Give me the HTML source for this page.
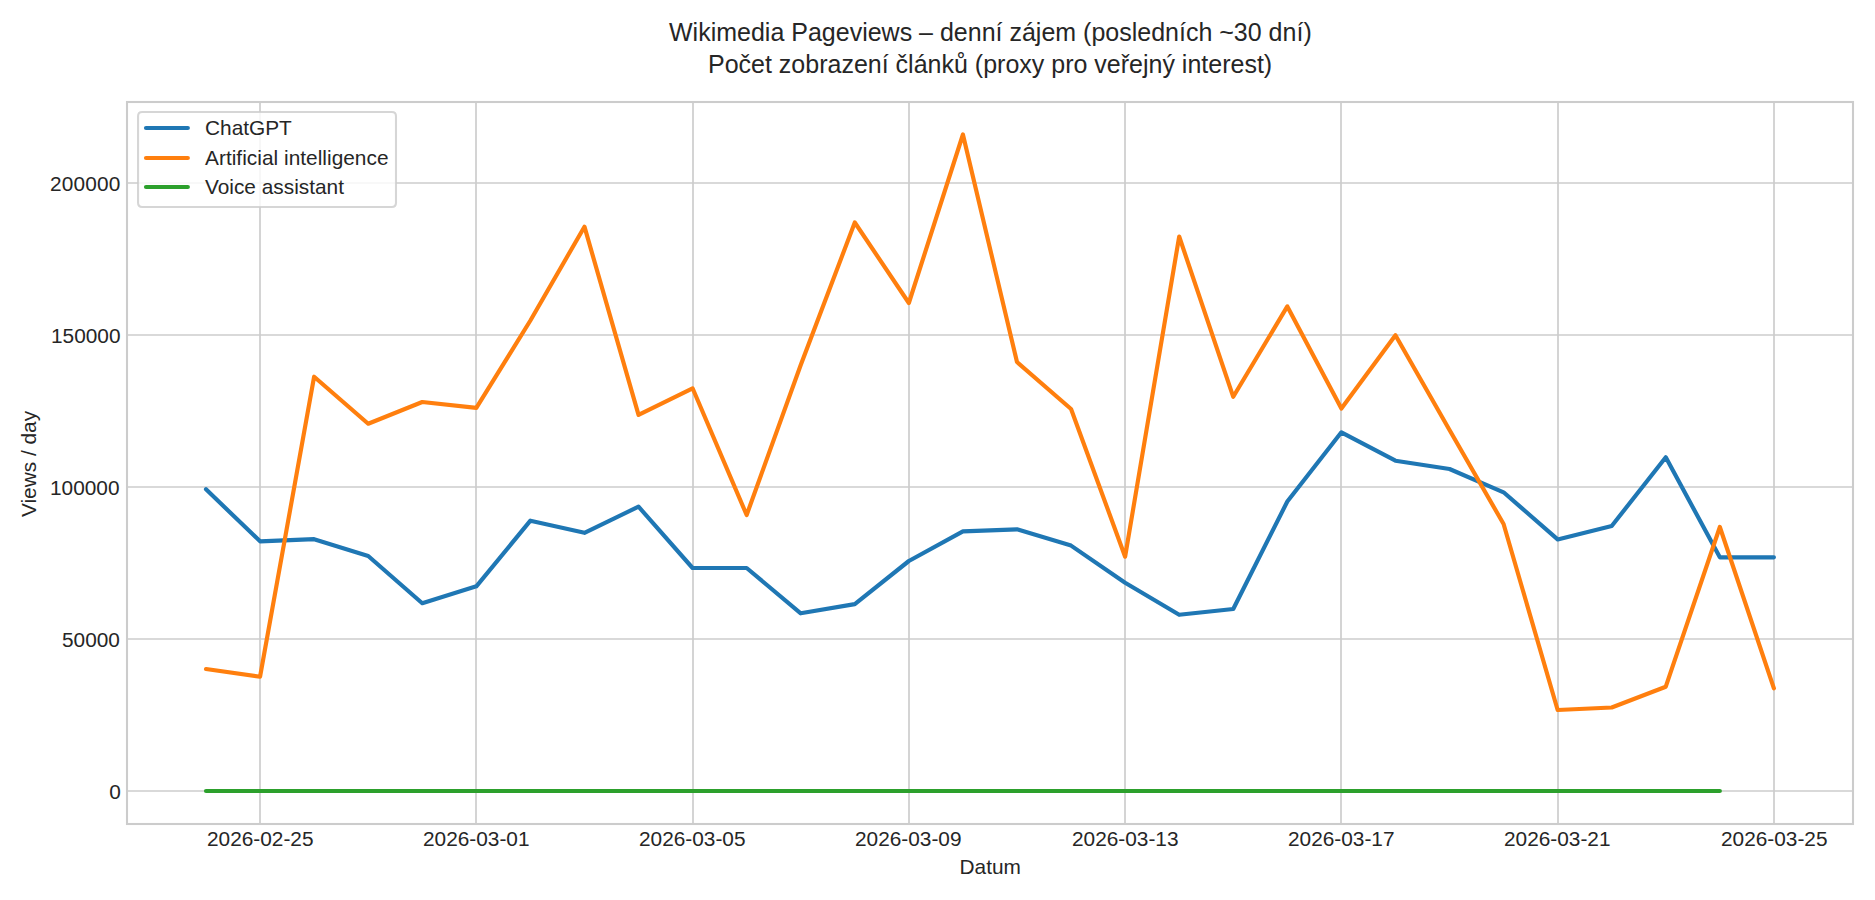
<!DOCTYPE html>
<html lang="cs">
<head>
<meta charset="utf-8">
<title>Wikimedia Pageviews – denní zájem</title>
<style>
html,body{margin:0;padding:0;background:#fff;}
body{width:1875px;height:900px;overflow:hidden;}
svg{display:block;}
text{font-family:"Liberation Sans",Arial,sans-serif;fill:#262626;}
.t{font-size:25px;}
.l{font-size:20.83px;}
.g{stroke:#cccccc;stroke-width:1.67;fill:none;}
.s{stroke:#cccccc;stroke-width:2.08;fill:none;stroke-linecap:square;}
.d{fill:none;stroke-width:4.17;stroke-linecap:round;stroke-linejoin:round;}
</style>
</head>
<body>
<svg width="1875" height="900" viewBox="0 0 1875 900">
<rect x="0" y="0" width="1875" height="900" fill="#ffffff"/>

<g class="g">
<line x1="260" y1="102.0" x2="260" y2="824.0"/>
<line x1="476" y1="102.0" x2="476" y2="824.0"/>
<line x1="693" y1="102.0" x2="693" y2="824.0"/>
<line x1="909" y1="102.0" x2="909" y2="824.0"/>
<line x1="1125" y1="102.0" x2="1125" y2="824.0"/>
<line x1="1341" y1="102.0" x2="1341" y2="824.0"/>
<line x1="1558" y1="102.0" x2="1558" y2="824.0"/>
<line x1="1774" y1="102.0" x2="1774" y2="824.0"/>
<line x1="127.0" y1="791" x2="1853.0" y2="791"/>
<line x1="127.0" y1="639" x2="1853.0" y2="639"/>
<line x1="127.0" y1="487" x2="1853.0" y2="487"/>
<line x1="127.0" y1="335" x2="1853.0" y2="335"/>
<line x1="127.0" y1="183" x2="1853.0" y2="183"/>
</g>
<polyline class="d" stroke="#1f77b4" points="206.00,489.30 260.07,541.30 314.13,539.20 368.20,556.00 422.26,603.20 476.33,586.30 530.40,520.70 584.46,532.80 638.53,506.70 692.59,568.00 746.66,568.00 800.73,613.30 854.79,604.10 908.86,561.00 962.92,531.30 1016.99,529.30 1071.06,545.60 1125.12,582.70 1179.19,614.80 1233.25,609.00 1287.32,501.50 1341.39,432.30 1395.45,460.70 1449.52,469.00 1503.58,492.30 1557.65,539.40 1611.72,526.00 1665.78,457.30 1719.85,557.30 1773.91,557.30"/>
<polyline class="d" stroke="#ff7f0e" points="206.00,669.00 260.07,676.70 314.13,376.70 368.20,423.70 422.26,402.00 476.33,407.90 530.40,320.50 584.46,226.70 638.53,414.90 692.59,388.30 746.66,515.00 800.73,365.00 854.79,222.50 908.86,303.00 962.92,134.50 1016.99,362.00 1071.06,409.00 1125.12,556.70 1179.19,236.50 1233.25,396.80 1287.32,306.40 1341.39,408.60 1395.45,335.30 1449.52,430.00 1503.58,524.00 1557.65,710.00 1611.72,707.50 1665.78,686.70 1719.85,527.00 1773.91,688.30"/>
<line class="d" stroke="#2ca02c" x1="206.00" y1="791" x2="1719.85" y2="791"/>
<rect class="s" x="127.0" y="102.0" width="1726.00" height="722.00"/>
<text class="l" x="207" y="846">2026-02-25</text>
<text class="l" x="423" y="846">2026-03-01</text>
<text class="l" x="639" y="846">2026-03-05</text>
<text class="l" x="855" y="846">2026-03-09</text>
<text class="l" x="1072" y="846">2026-03-13</text>
<text class="l" x="1288" y="846">2026-03-17</text>
<text class="l" x="1504" y="846">2026-03-21</text>
<text class="l" x="1721" y="846">2026-03-25</text>
<text class="l" x="109.3" y="799">0</text>
<text class="l" x="62" y="647">50000</text>
<text class="l" x="50" y="495">100000</text>
<text class="l" x="51" y="343">150000</text>
<text class="l" x="50" y="191" style="letter-spacing:0.16px">200000</text>
<text class="l" x="959.5" y="874">Datum</text>
<text class="l" transform="translate(36.1,464) rotate(-90)" text-anchor="middle">Views / day</text>
<text class="t" x="669" y="41">Wikimedia Pageviews – denní zájem (posledních ~30 dní)</text>
<text class="t" x="708" y="73">Počet zobrazení článků (proxy pro veřejný interest)</text>
<path d="M142.22,112.0 L391.83,112.0 Q396.0,112.0 396.0,116.17 L396.0,202.83 Q396.0,207.0 391.83,207.0 L142.22,207.0 Q138.05,207.0 138.05,202.83 L138.05,116.17 Q138.05,112.0 142.22,112.0 Z" fill="#ffffff" fill-opacity="0.8" stroke="#cccccc" stroke-opacity="0.8" stroke-width="2.08" stroke-linejoin="miter"/>
<line class="d" stroke="#1f77b4" x1="146" y1="128" x2="187.85" y2="128"/>
<line class="d" stroke="#ff7f0e" x1="146" y1="158" x2="187.85" y2="158"/>
<line class="d" stroke="#2ca02c" x1="146" y1="187" x2="187.85" y2="187"/>
<text class="l" x="205" y="135">ChatGPT</text>
<text class="l" x="205" y="165" style="letter-spacing:0.027px">Artificial intelligence</text>
<text class="l" x="205" y="194">Voice assistant</text>
</svg>
</body>
</html>
